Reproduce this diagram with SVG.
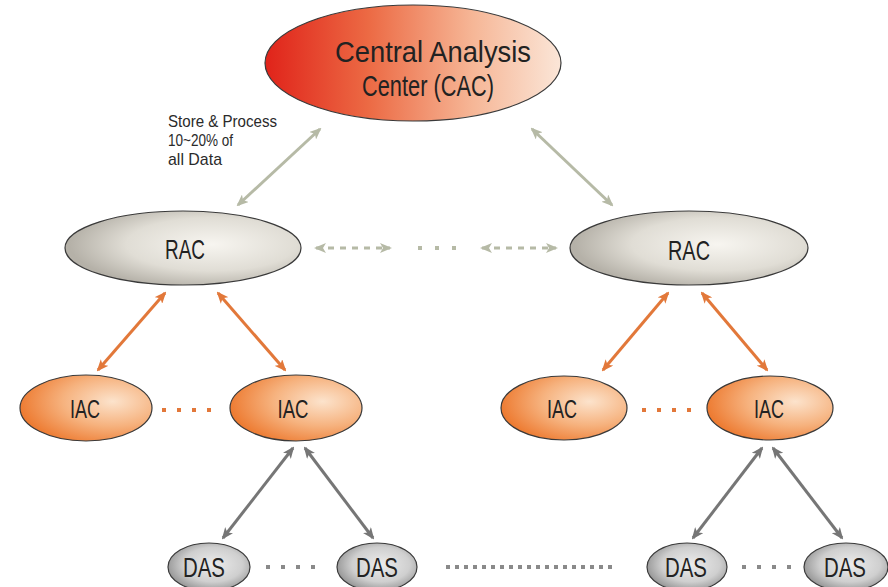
<svg xmlns="http://www.w3.org/2000/svg" width="888" height="587" viewBox="0 0 888 587">
<style>
.t{font-family:"Liberation Sans",Arial,sans-serif;fill:#222222;text-anchor:middle}
.node{stroke:#3a3a3a;stroke-width:1.2}
.g{stroke:#b6baa6;stroke-width:3;fill:none}
.o{stroke:#e2783a;stroke-width:3;fill:none}
.k{stroke:#767676;stroke-width:3;fill:none}
.n{font-family:"Liberation Sans",Arial,sans-serif;font-size:17px;fill:#2a2a2a}
</style>
<defs>
<linearGradient id="cac" x1="0" y1="0" x2="1" y2="0">
<stop offset="0" stop-color="#e0231a"/>
<stop offset="0.35" stop-color="#ec6a44"/>
<stop offset="0.7" stop-color="#f6b696"/>
<stop offset="1" stop-color="#fbe6d8"/>
</linearGradient>
<radialGradient id="rac" cx="0.62" cy="0.45" r="0.6">
<stop offset="0" stop-color="#f7f5f0"/>
<stop offset="0.6" stop-color="#e0ddd5"/>
<stop offset="1" stop-color="#b5b1a8"/>
</radialGradient>
<radialGradient id="iac" cx="0.7" cy="0.4" r="0.75">
<stop offset="0" stop-color="#fce3cc"/>
<stop offset="0.5" stop-color="#f6b27e"/>
<stop offset="1" stop-color="#ec7428"/>
</radialGradient>
<radialGradient id="das" cx="0.55" cy="0.45" r="0.6">
<stop offset="0" stop-color="#ececec"/>
<stop offset="0.6" stop-color="#cfcfcf"/>
<stop offset="1" stop-color="#8e8e8e"/>
</radialGradient>
<marker id="mg" viewBox="0 0 12 10" refX="10" refY="5" markerWidth="12" markerHeight="10" markerUnits="userSpaceOnUse" orient="auto-start-reverse"><path d="M0,0 L12,5 L0,10 L3,5 z" fill="#b6baa6"/></marker>
<marker id="mo" viewBox="0 0 12 10" refX="10" refY="5" markerWidth="12" markerHeight="10" markerUnits="userSpaceOnUse" orient="auto-start-reverse"><path d="M0,0 L12,5 L0,10 L3,5 z" fill="#e2783a"/></marker>
<marker id="mk" viewBox="0 0 12 10" refX="10" refY="5" markerWidth="12" markerHeight="10" markerUnits="userSpaceOnUse" orient="auto-start-reverse"><path d="M0,0 L12,5 L0,10 L3,5 z" fill="#767676"/></marker>
</defs>
<rect width="888" height="587" fill="#ffffff"/>

<g id="connectors">
<line class="g" x1="238" y1="205" x2="320" y2="129" marker-start="url(#mg)" marker-end="url(#mg)"/>
<line class="g" x1="532" y1="129" x2="612" y2="205" marker-start="url(#mg)" marker-end="url(#mg)"/>
<line class="g" x1="316" y1="248" x2="390" y2="248" stroke-dasharray="6,6" marker-start="url(#mg)" marker-end="url(#mg)"/>
<line class="g" x1="482" y1="248" x2="556" y2="248" stroke-dasharray="6,6" marker-start="url(#mg)" marker-end="url(#mg)"/>
<line class="o" x1="165" y1="293" x2="98" y2="370" marker-start="url(#mo)" marker-end="url(#mo)"/>
<line class="o" x1="218" y1="293" x2="285" y2="370" marker-start="url(#mo)" marker-end="url(#mo)"/>
<line class="o" x1="668" y1="293" x2="603" y2="370" marker-start="url(#mo)" marker-end="url(#mo)"/>
<line class="o" x1="702" y1="293" x2="767" y2="370" marker-start="url(#mo)" marker-end="url(#mo)"/>
<line class="k" x1="293" y1="448" x2="223" y2="538" marker-start="url(#mk)" marker-end="url(#mk)"/>
<line class="k" x1="305" y1="448" x2="373" y2="538" marker-start="url(#mk)" marker-end="url(#mk)"/>
<line class="k" x1="762" y1="448" x2="693" y2="538" marker-start="url(#mk)" marker-end="url(#mk)"/>
<line class="k" x1="773" y1="448" x2="842" y2="538" marker-start="url(#mk)" marker-end="url(#mk)"/>
<line x1="418" y1="248" x2="460" y2="248" stroke="#b6baa6" stroke-width="4" stroke-dasharray="4,13"/>
<line x1="162" y1="410" x2="215" y2="410" stroke="#e2783a" stroke-width="4" stroke-dasharray="4,11"/>
<line x1="642" y1="410" x2="695" y2="410" stroke="#e2783a" stroke-width="4" stroke-dasharray="4,11"/>
<line x1="266" y1="567" x2="319" y2="567" stroke="#8a8a8a" stroke-width="4" stroke-dasharray="4,11"/>
<line x1="446" y1="567" x2="612" y2="567" stroke="#8a8a8a" stroke-width="4" stroke-dasharray="4,5"/>
<line x1="742" y1="567" x2="795" y2="567" stroke="#8a8a8a" stroke-width="4" stroke-dasharray="4,11"/>
</g>

<g id="cac-node">
<ellipse class="node" cx="413" cy="63" rx="148" ry="58" fill="url(#cac)"/>
<text class="t" x="433" y="62" font-size="30" textLength="196" lengthAdjust="spacingAndGlyphs">Central Analysis</text>
<text class="t" x="428" y="96" font-size="30" textLength="132" lengthAdjust="spacingAndGlyphs">Center (CAC)</text>
</g>
<g id="note">
<text class="n" x="168" y="127" textLength="109" lengthAdjust="spacingAndGlyphs">Store &amp; Process</text>
<text class="n" x="168" y="146" textLength="65" lengthAdjust="spacingAndGlyphs">10~20% of</text>
<text class="n" x="168" y="165" textLength="54" lengthAdjust="spacingAndGlyphs">all Data</text>
</g>
<g id="rac-left">
<ellipse class="node" cx="183" cy="248" rx="118" ry="37" fill="url(#rac)"/>
<text class="t" x="185" y="259" font-size="28" textLength="40" lengthAdjust="spacingAndGlyphs">RAC</text>
</g>
<g id="rac-right">
<ellipse class="node" cx="689" cy="248" rx="119" ry="37" fill="url(#rac)"/>
<text class="t" x="689" y="260" font-size="28" textLength="42" lengthAdjust="spacingAndGlyphs">RAC</text>
</g>
<g id="iac-1">
<ellipse class="node" cx="86" cy="408" rx="66" ry="33" fill="url(#iac)"/>
<text class="t" x="85" y="418" font-size="25" textLength="30" lengthAdjust="spacingAndGlyphs">IAC</text>
</g>
<g id="iac-2">
<ellipse class="node" cx="296" cy="408" rx="66" ry="33" fill="url(#iac)"/>
<text class="t" x="293" y="418" font-size="25" textLength="31" lengthAdjust="spacingAndGlyphs">IAC</text>
</g>
<g id="iac-3">
<ellipse class="node" cx="564" cy="408" rx="63" ry="32" fill="url(#iac)"/>
<text class="t" x="562" y="418" font-size="25" textLength="30" lengthAdjust="spacingAndGlyphs">IAC</text>
</g>
<g id="iac-4">
<ellipse class="node" cx="770" cy="408" rx="63" ry="32" fill="url(#iac)"/>
<text class="t" x="769" y="418" font-size="25" textLength="30" lengthAdjust="spacingAndGlyphs">IAC</text>
</g>
<g id="das-1">
<ellipse class="node" cx="209" cy="567" rx="41" ry="24" fill="url(#das)"/>
<text class="t" x="204" y="577" font-size="27" textLength="42" lengthAdjust="spacingAndGlyphs">DAS</text>
</g>
<g id="das-2">
<ellipse class="node" cx="377" cy="567" rx="40" ry="24" fill="url(#das)"/>
<text class="t" x="377" y="577" font-size="27" textLength="42" lengthAdjust="spacingAndGlyphs">DAS</text>
</g>
<g id="das-3">
<ellipse class="node" cx="687" cy="567" rx="40" ry="24" fill="url(#das)"/>
<text class="t" x="686" y="577" font-size="27" textLength="42" lengthAdjust="spacingAndGlyphs">DAS</text>
</g>
<g id="das-4">
<ellipse class="node" cx="846" cy="567" rx="42" ry="24" fill="url(#das)"/>
<text class="t" x="845" y="577" font-size="27" textLength="42" lengthAdjust="spacingAndGlyphs">DAS</text>
</g>
</svg>
